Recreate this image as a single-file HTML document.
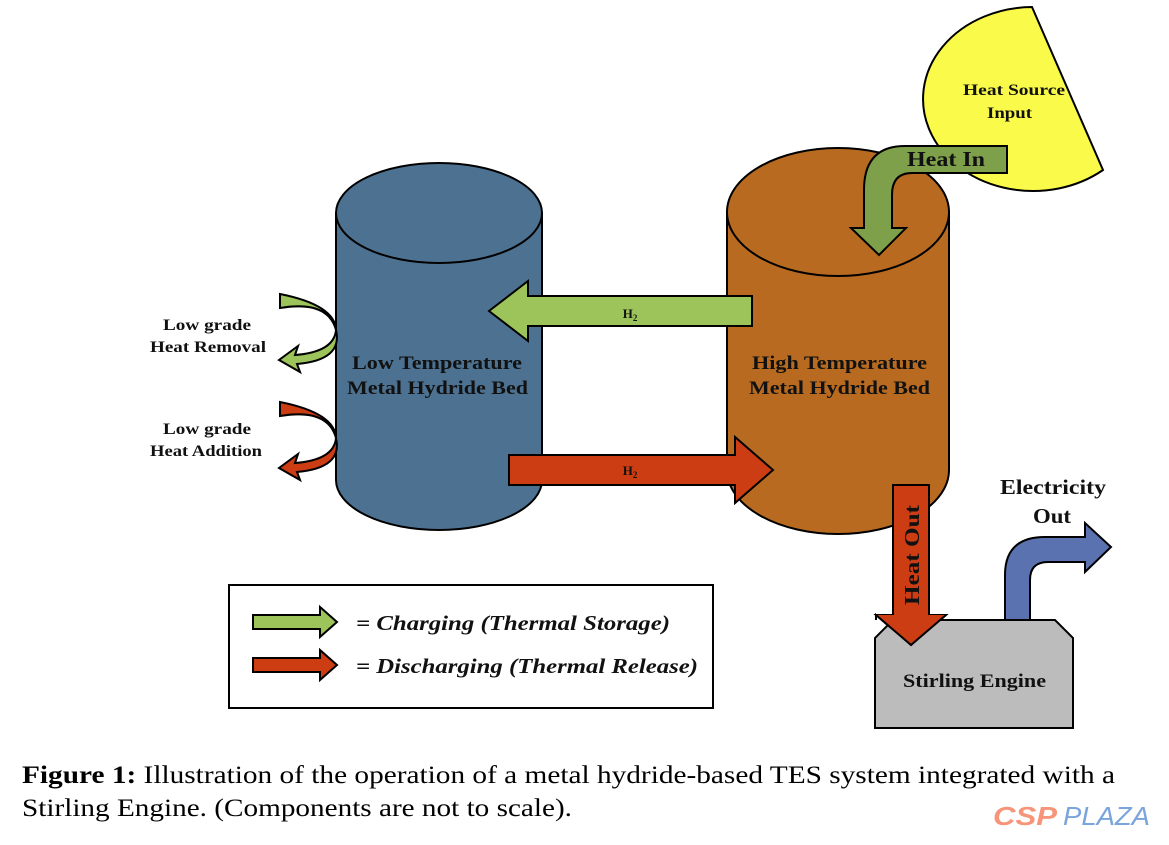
<!DOCTYPE html>
<html><head><meta charset="utf-8"><style>
html,body{margin:0;padding:0;background:#fff;}
svg{display:block;}
.b{font-family:"Liberation Serif",serif;font-weight:bold;fill:#111;}
</style></head><body>
<svg width="1169" height="845" viewBox="0 0 1169 845" xmlns="http://www.w3.org/2000/svg">
<g stroke="#000" stroke-width="2">
<path d="M336,213 L336,480 A103,50 0 0 0 542,480 L542,213 Z" fill="#4d7291"/>
<ellipse cx="439" cy="213" rx="103" ry="50" fill="#4d7291"/>
<path d="M727,212 L727,470 A111,64 0 0 0 949,470 L949,212 Z" fill="#b86b20"/>
<ellipse cx="838" cy="212" rx="111" ry="64" fill="#b86b20"/>
<path d="M1032,7 L1103,170 A110,92 0 1 1 1032,7 Z" fill="#fafa4a"/>
<path d="M1007,146 L905,146 Q864,146 864,190 L864,228 L851,228 L879,255 L906,228 L892,228 L892,195 Q892,173 912,173 L1007,173 Z" fill="#7fa04a"/>
<path d="M752,296 L528,296 L528,281 L489,311 L528,341 L528,326 L752,326 Z" fill="#9cc45a"/>
<path d="M509,455 L735,455 L735,437 L773,470 L735,503 L735,485 L509,485 Z" fill="#cc3d14"/>
<path d="M893,485 L929,485 L929,615 L946,615 L911,645 L876,615 L893,615 Z" fill="#cc3d14"/>
<path d="M893,620 L1055,620 L1073,638 L1073,728 L875,728 L875,638 Z" fill="#bcbcbc"/>
<path d="M893,615 L929,615 L946,615 L911,645 L876,615 Z" fill="#cc3d14" stroke="none"/>
<path d="M876,620 L876,615 L911,645 L946,615" fill="none"/>
<path d="M1005,620 L1005,575 Q1005,537 1045,537 L1085,537 L1085,523 L1111,547 L1085,572 L1085,562 L1048,562 Q1030,562 1030,580 L1030,620 Z" fill="#5a72b0"/>
<path d="M280,294 Q335,305 336,330 Q334,352 295,355 L298,346 L279,360 L300,372 L297,364 Q343,360 336,330 Q328,300 280,308 Z" fill="#9cc45a"/>
<path d="M280,402 Q335,413 336,438 Q334,460 295,463 L298,454 L279,468 L300,480 L297,472 Q343,468 336,438 Q328,408 280,416 Z" fill="#cc3d14"/>
<rect x="229" y="585" width="484" height="123" fill="#fff"/>
<path d="M253,615 L320,615 L320,607 L337,622 L320,637 L320,629 L253,629 Z" fill="#9cc45a"/>
<path d="M253,658 L320,658 L320,650 L337,665 L320,680 L320,672 L253,672 Z" fill="#cc3d14"/>
</g>
<text class="b" x="963" y="95" font-size="16" textLength="102" lengthAdjust="spacingAndGlyphs">Heat Source</text>
<text class="b" x="987" y="118" font-size="16" textLength="45" lengthAdjust="spacingAndGlyphs">Input</text>
<text class="b" x="907" y="166" font-size="21" textLength="78" lengthAdjust="spacingAndGlyphs">Heat In</text>
<text class="b" x="630" y="318" font-size="13" text-anchor="middle">H<tspan font-size="9" dy="3">2</tspan></text>
<text class="b" x="630" y="475" font-size="13" text-anchor="middle">H<tspan font-size="9" dy="3">2</tspan></text>
<text class="b" x="352" y="369" font-size="19" textLength="170" lengthAdjust="spacingAndGlyphs">Low Temperature</text>
<text class="b" x="347" y="394" font-size="19" textLength="181" lengthAdjust="spacingAndGlyphs">Metal Hydride Bed</text>
<text class="b" x="752" y="369" font-size="19" textLength="175" lengthAdjust="spacingAndGlyphs">High Temperature</text>
<text class="b" x="749" y="394" font-size="19" textLength="181" lengthAdjust="spacingAndGlyphs">Metal Hydride Bed</text>
<text class="b" x="163" y="330" font-size="16" textLength="88" lengthAdjust="spacingAndGlyphs">Low grade</text>
<text class="b" x="150" y="352" font-size="16" textLength="116" lengthAdjust="spacingAndGlyphs">Heat Removal</text>
<text class="b" x="163" y="434" font-size="16" textLength="88" lengthAdjust="spacingAndGlyphs">Low grade</text>
<text class="b" x="150" y="456" font-size="16" textLength="112" lengthAdjust="spacingAndGlyphs">Heat Addition</text>
<text class="b" x="0" y="0" font-size="21" textLength="100" lengthAdjust="spacingAndGlyphs" transform="translate(919,605) rotate(-90)">Heat Out</text>
<text class="b" x="1000" y="494" font-size="21" textLength="106" lengthAdjust="spacingAndGlyphs">Electricity</text>
<text class="b" x="1033" y="523" font-size="21" textLength="38" lengthAdjust="spacingAndGlyphs">Out</text>
<text class="b" x="903" y="687" font-size="19" textLength="143" lengthAdjust="spacingAndGlyphs">Stirling Engine</text>
<text class="b" x="356" y="630" font-size="21" font-style="italic" textLength="314" lengthAdjust="spacingAndGlyphs">= Charging (Thermal Storage)</text>
<text class="b" x="356" y="673" font-size="21" font-style="italic" textLength="342" lengthAdjust="spacingAndGlyphs">= Discharging (Thermal Release)</text>
<text x="22" y="783" font-family="Liberation Serif,serif" font-size="25" fill="#000" textLength="1093" lengthAdjust="spacingAndGlyphs"><tspan font-weight="bold">Figure 1:</tspan> Illustration of the operation of a metal hydride-based TES system integrated with a</text>
<text x="22" y="816" font-family="Liberation Serif,serif" font-size="25" fill="#000" textLength="550" lengthAdjust="spacingAndGlyphs">Stirling Engine. (Components are not to scale).</text>
<text x="993" y="825" font-family="Liberation Sans,sans-serif" font-size="26" font-weight="bold" font-style="italic" fill="#f7957a" textLength="64" lengthAdjust="spacingAndGlyphs">CSP</text>
<text x="1063" y="825" font-family="Liberation Sans,sans-serif" font-size="26" font-style="italic" fill="#7aa4dc" textLength="87" lengthAdjust="spacingAndGlyphs">PLAZA</text>
</svg>
</body></html>
